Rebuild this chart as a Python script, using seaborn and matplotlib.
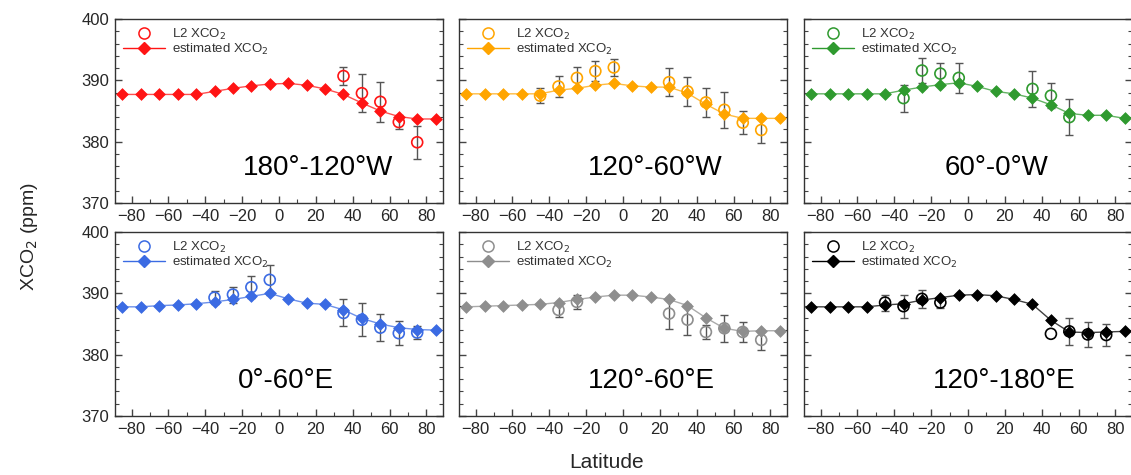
import numpy as np
import pandas as pd
import matplotlib
matplotlib.use("Agg")
import matplotlib.pyplot as plt
import seaborn as sns
from matplotlib.ticker import MultipleLocator
from matplotlib.lines import Line2D

sns.set_theme(style="white")
plt.rcParams['font.family'] = ['Liberation Sans', 'DejaVu Sans']

lat_est = [-85, -75, -65, -55, -45, -35, -25, -15, -5, 5, 15, 25, 35, 45, 55, 65, 75, 85]

regions = ["180°-120°W", "120°-60°W", "60°-0°W", "0°-60°E", "120°-60°E", "120°-180°E"]
colors = ["#ff1414", "#ffa500", "#2f9a2f", "#3b6be3", "#8e8e8e", "#000000"]

est_r1 = [387.7, 387.7, 387.7, 387.7, 387.7, 388.2, 388.7, 389.1, 389.4, 389.5, 389.2, 388.6, 387.7, 386.3, 385.0, 384.1, 383.7, 383.7]
est_r2 = [387.8, 387.8, 387.8, 387.8, 387.8, 388.4, 388.7, 389.2, 389.5, 389.1, 388.9, 388.9, 387.9, 386.1, 384.5, 383.8, 383.8, 383.8]
est_r3 = [387.8, 387.8, 387.8, 387.8, 387.8, 388.4, 388.9, 389.3, 389.6, 389.0, 388.2, 387.8, 387.1, 386.0, 384.6, 384.3, 384.3, 383.8]
est_r4 = [387.8, 387.8, 388.0, 388.1, 388.3, 388.6, 389.0, 389.5, 390.0, 389.1, 388.4, 388.2, 387.3, 385.9, 385.0, 384.4, 384.1, 384.0]
est_r5 = [387.8, 387.9, 388.0, 388.1, 388.2, 388.5, 389.0, 389.4, 389.7, 389.7, 389.4, 389.0, 388.0, 386.0, 384.3, 383.8, 383.9, 383.9]
est_r6 = [387.8, 387.8, 387.8, 387.8, 388.1, 388.3, 388.9, 389.3, 389.7, 389.8, 389.6, 389.0, 388.2, 385.6, 383.7, 383.6, 383.7, 383.8]

l2_lat_r1 = [35, 45, 55, 65, 75]
l2_val_r1 = [390.7, 387.9, 386.5, 383.2, 379.9]
l2_err_r1 = [1.4, 3.1, 3.3, 1.2, 2.7]

l2_lat_r2 = [-45, -35, -25, -15, -5, 25, 35, 45, 55, 65, 75]
l2_val_r2 = [387.5, 389.0, 390.4, 391.5, 392.1, 389.7, 388.2, 386.4, 385.2, 383.1, 381.9]
l2_err_r2 = [1.2, 1.7, 1.7, 1.6, 1.4, 2.3, 2.4, 2.3, 2.9, 1.9, 2.1]

l2_lat_r3 = [-35, -25, -15, -5, 35, 45, 55]
l2_val_r3 = [387.1, 391.6, 391.1, 390.4, 388.6, 387.5, 384.0]
l2_err_r3 = [2.2, 2.0, 1.8, 2.5, 2.9, 2.0, 2.9]

l2_lat_r4 = [-35, -25, -15, -5, 35, 45, 55, 65, 75]
l2_val_r4 = [389.3, 389.8, 391.0, 392.2, 386.8, 385.7, 384.4, 383.5, 383.6]
l2_err_r4 = [1.1, 1.3, 1.8, 2.5, 2.2, 2.7, 2.2, 2.0, 1.0]

l2_lat_r5 = [-35, -25, 25, 35, 45, 55, 65, 75]
l2_val_r5 = [387.3, 388.6, 386.7, 385.7, 383.7, 384.3, 383.7, 382.4]
l2_err_r5 = [1.2, 1.1, 2.5, 2.5, 1.2, 2.2, 1.6, 1.6]

l2_lat_r6 = [-45, -35, -25, -15, 45, 55, 65, 75]
l2_val_r6 = [388.5, 387.9, 389.1, 388.5, 383.4, 383.8, 383.3, 383.2]
l2_err_r6 = [1.3, 1.9, 1.5, 0.9, np.nan, 2.2, 2.0, 1.8]

est_all = [est_r1, est_r2, est_r3, est_r4, est_r5, est_r6]
l2_all = [(l2_lat_r1, l2_val_r1, l2_err_r1), (l2_lat_r2, l2_val_r2, l2_err_r2),
          (l2_lat_r3, l2_val_r3, l2_err_r3), (l2_lat_r4, l2_val_r4, l2_err_r4),
          (l2_lat_r5, l2_val_r5, l2_err_r5), (l2_lat_r6, l2_val_r6, l2_err_r6)]

# left edge (in latitude units) of each region label
label_x = [-19.5, -19.0, -12.5, -22.5, -19.0, -19.0]

W, H = 1131, 475
fig = plt.figure(figsize=(W / 100, H / 100), dpi=100)
lefts = [115, 459, 804]
tops = [19, 232]
aw, ah = 328, 184

for i in range(6):
    r, c = divmod(i, 3)
    ax = fig.add_axes([lefts[c] / W, (H - tops[r] - ah) / H, aw / W, ah / H])
    col = colors[i]
    est_df = pd.DataFrame({"lat": lat_est, "xco2": est_all[i]})
    la, va, er = l2_all[i]
    l2_df = pd.DataFrame({"lat": la, "xco2": va, "err": er})
    eb = l2_df.dropna()

    ax.errorbar(eb["lat"], eb["xco2"], yerr=eb["err"], fmt="none",
                ecolor="#555555", elinewidth=1.0, capsize=3, capthick=1.0, zorder=2)
    sns.lineplot(data=est_df, x="lat", y="xco2", ax=ax, color=col, lw=1.0, alpha=0.75,
                 zorder=3, legend=False)
    sns.scatterplot(data=est_df, x="lat", y="xco2", ax=ax, marker="D", s=36, color=col,
                    edgecolor=col, linewidth=0.5, zorder=4, legend=False)
    sns.scatterplot(data=l2_df, x="lat", y="xco2", ax=ax, marker="o", s=62,
                    facecolor="none", edgecolor=col, linewidth=1.2, zorder=5, legend=False)

    ax.set_xlim(-89, 89)
    ax.set_ylim(370, 400)
    ax.xaxis.set_major_locator(MultipleLocator(20))
    ax.xaxis.set_minor_locator(MultipleLocator(10))
    ax.yaxis.set_major_locator(MultipleLocator(10))
    ax.yaxis.set_minor_locator(MultipleLocator(2))
    ax.tick_params(which="both", direction="in", bottom=True, left=True, right=True, top=False,
                   color="#444444", labelsize=12, pad=4)
    ax.tick_params(which="major", length=5, width=1)
    ax.tick_params(which="minor", length=3, width=0.8)
    ax.set_xlabel("")
    ax.set_ylabel("")
    if c != 0:
        ax.set_yticklabels([])
    for s in ax.spines.values():
        s.set_color("#333333")
        s.set_linewidth(1.0)

    ax.text(label_x[i], 374.6, regions[i], ha="left", va="baseline", fontsize=20, color="black")

    handles = [Line2D([], [], marker="o", ls="none", markerfacecolor="none",
                      markeredgecolor=col, markersize=8, markeredgewidth=1.1),
               Line2D([], [], marker="D", color=col, lw=1.0, markersize=6,
                      markerfacecolor=col, markeredgecolor=col)]
    ax.legend(handles, ["L2 XCO$_2$", "estimated XCO$_2$"], loc="upper left",
              frameon=False, fontsize=9.5, handlelength=3.2, handletextpad=0.5,
              labelspacing=0.0, borderaxespad=0.2, bbox_to_anchor=(0.0, 1.0),
              labelcolor="#333333")

fig.text(30 / W, 1 - 237 / H, "XCO$_2$ (ppm)", rotation=90, ha="center", va="center", fontsize=14)
fig.text(607 / W, 1 - 462 / H, "Latitude", ha="center", va="center", fontsize=15)

fig.savefig("out.png", dpi=100)
